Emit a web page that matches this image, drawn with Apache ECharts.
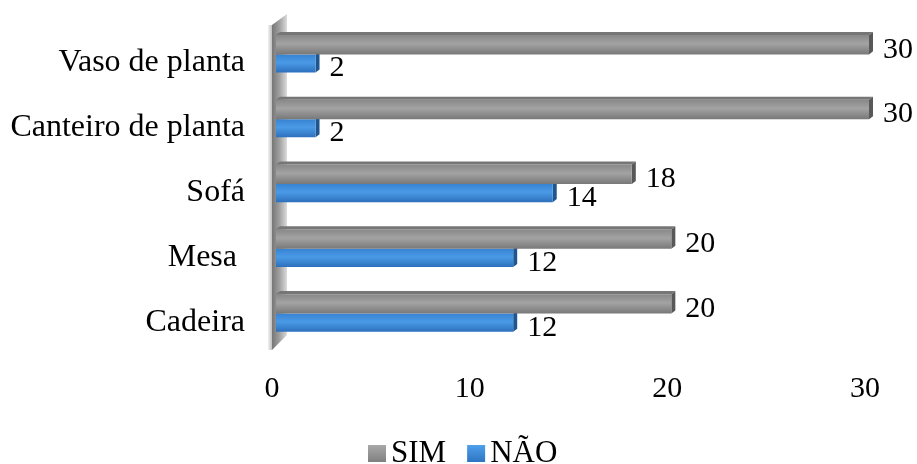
<!DOCTYPE html>
<html>
<head>
<meta charset="utf-8">
<script src="https://cdn.jsdelivr.net/npm/echarts@6/dist/echarts.min.js"></script>
<style>
html,body{margin:0;padding:0;background:#fff;}
#chart{width:917px;height:464px;}
</style>
</head>
<body>
<div id="chart"></div>
<script>
var categories = ['Cadeira', 'Mesa ', 'Sofá', 'Canteiro de planta', 'Vaso de planta'];
var simValues = [20, 20, 18, 30, 30];
var naoValues = [12, 12, 14, 2, 2];
var seriesNames = ['SIM', 'NÃO'];
var xTicks = { min: 0, max: 30, interval: 10 };

var FONT = '"Liberation Serif", "Times New Roman", serif';
var G = echarts.graphic;

function grad(stops) {
  return new G.LinearGradient(0, 0, 0, 1, stops.map(function (s) { return { offset: s[0], color: s[1] }; }));
}

var simFace = function () { return grad([[0, '#888888'], [0.45, '#a3a3a3'], [1, '#787878']]); };
var naoFace = function () { return grad([[0, '#3783d3'], [0.45, '#4a9ae6'], [1, '#2d70bd']]); };

function barRenderer(kind) {
  return function (params, api) {
    var val = api.value(0);
    var idx = api.value(1);
    var p0 = api.coord([0, idx]);
    var p1 = api.coord([val, idx]);
    var band = api.size([0, 1])[1];
    var x0 = p0[0], x1 = p1[0], cy = p0[1];
    var dx = 4, dy = band * 0.047;
    var yt, yb, face, topC, capC;
    if (kind === 'sim') {
      yb = cy; yt = cy - band * 0.30;
      face = simFace(); topC = '#767676'; capC = '#585858';
    } else {
      yt = cy; yb = cy + band * 0.28;
      face = naoFace(); topC = '#2c69ab'; capC = '#1f568f';
    }
    var children = [];
    if (kind === 'sim') {
      children.push({ type: 'polygon', shape: { points: [[x0, yt], [x0 + dx, yt - dy], [x1 + dx, yt - dy], [x1, yt]] }, style: { fill: topC } });
    }
    children.push({ type: 'polygon', shape: { points: [[x1, yt], [x1 + dx, yt - dy], [x1 + dx, yb - dy], [x1, yb]] }, style: { fill: capC } });
    children.push({ type: 'rect', shape: { x: x0, y: yt, width: x1 - x0, height: yb - yt }, style: { fill: face } });
    children.push({ type: 'text', style: { text: String(val), x: x1 + dx + 10, y: (yt + yb) / 2 + 5, font: '30px ' + FONT, fill: '#000', verticalAlign: 'middle', align: 'left' } });
    return { type: 'group', children: children };
  };
}

function wallRenderer(params, api) {
  var cs = params.coordSys;
  var X0 = api.coord([0, 0])[0];
  var top = cs.y, bot = cs.y + cs.height;
  return {
    type: 'group',
    children: [
      { type: 'polygon', shape: { points: [[X0 - 4, top + 3], [X0 + 11, top - 8], [X0 + 11, bot - 11], [X0 - 4, bot + 4]] },
        style: { fill: new G.LinearGradient(0, 0, 1, 0, [{ offset: 0, color: '#767676' }, { offset: 0.5, color: '#a0a0a0' }, { offset: 1, color: '#dcdcdc' }]) } },
      { type: 'rect', shape: { x: X0 - 8, y: top + 3, width: 4, height: bot - top + 1 },
        style: { fill: new G.LinearGradient(0, 0, 1, 0, [{ offset: 0, color: '#f2f2f2' }, { offset: 1, color: '#c0c0c0' }]) } }
    ]
  };
}

var chart = echarts.init(document.getElementById('chart'));
chart.setOption({
  animation: false,
  backgroundColor: '#fff',
  grid: { left: 276, right: 48, top: 22, bottom: 118, containLabel: false },
  legend: {
    data: [
      { name: 'SIM', itemStyle: { color: grad([[0, '#a8a8a8'], [1, '#808080']]) } },
      { name: 'NÃO', itemStyle: { color: grad([[0, '#4ea0ec'], [1, '#2f74c2']]) } }
    ],
    top: 433,
    left: 363,
    icon: 'rect',
    itemWidth: 18,
    itemHeight: 17,
    itemGap: 21,
    textStyle: { fontFamily: FONT, fontSize: 31, color: '#000' }
  },
  xAxis: {
    type: 'value',
    min: xTicks.min, max: xTicks.max, interval: xTicks.interval,
    axisLine: { show: false }, axisTick: { show: false }, splitLine: { show: false },
    axisLabel: { fontFamily: FONT, fontSize: 30, color: '#000', margin: 28, padding: [0, 8, 0, 0] }
  },
  yAxis: {
    type: 'category',
    data: categories,
    axisLine: { show: false }, axisTick: { show: false }, splitLine: { show: false },
    axisLabel: { fontFamily: FONT, fontSize: 32, color: '#000', margin: 31, verticalAlign: 'top', lineHeight: 17 }
  },
  series: [
    { type: 'custom', name: '__wall', renderItem: wallRenderer, data: [[0, 0]], encode: { x: 0, y: 1 }, z: 1, silent: true },
    { type: 'custom', name: 'NÃO', renderItem: barRenderer('nao'), data: naoValues.map(function (v, i) { return [v, i]; }), encode: { x: 0, y: 1 }, z: 2, itemStyle: { color: '#4293e0' } },
    { type: 'custom', name: 'SIM', renderItem: barRenderer('sim'), data: simValues.map(function (v, i) { return [v, i]; }), encode: { x: 0, y: 1 }, z: 3, itemStyle: { color: '#969696' } }
  ]
});
</script>
</body>
</html>
